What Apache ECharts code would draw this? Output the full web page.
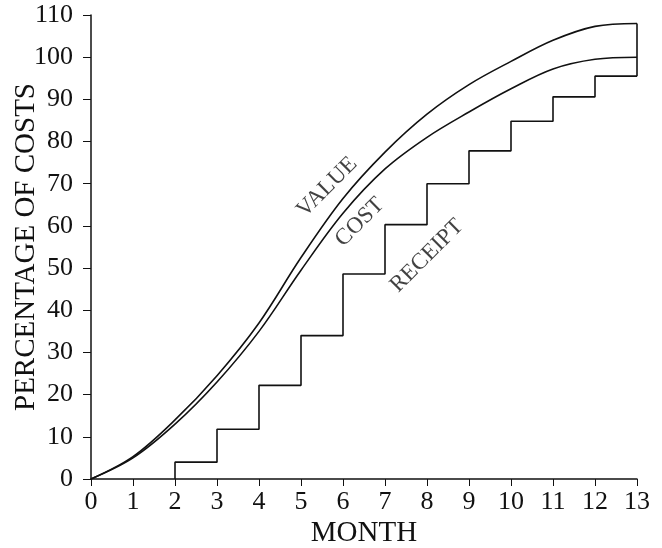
<!DOCTYPE html>
<html>
<head>
<meta charset="utf-8">
<script src="https://cdn.jsdelivr.net/npm/echarts@6/dist/echarts.min.js"></script>
<style>
  html, body { margin: 0; padding: 0; background: #fff; }
  #chart { width: 662px; height: 548px; }
</style>
</head>
<body>
<div id="chart"></div>
<script>
// Cumulative value, cost and receipts over the contract period (% of total cost)
const months = [0, 1, 2, 3, 4, 5, 6, 7, 8, 9, 10, 11, 12, 13];
const valueCurve = [0, 5.3, 14, 24.5, 37, 52.5, 66.5, 77.5, 86.5, 93.5, 99, 104, 107.3, 108];
const costCurve = [0, 5, 13, 23, 35, 49.5, 63, 73.5, 81, 87, 92.5, 97.2, 99.5, 100];

// Receipts arrive monthly from month 2; each value holds until the next month
const receiptMonths = [2, 3, 4, 5, 6, 7, 8, 9, 10, 11, 12, 13];
const receiptValues = [4, 11.8, 22.2, 34, 48.6, 60.3, 70, 77.8, 84.8, 90.6, 95.5, 95.5];

const xTicks = ['0', '1', '2', '3', '4', '5', '6', '7', '8', '9', '10', '11', '12', '13'];

// In-plot curve labels: [month, percent, text]
const curveLabels = [
  [5.62, 69.2, 'VALUE'],
  [6.4, 60.9, 'COST'],
  [8.0, 52.9, 'RECEIPT']
];

const serif = '"Times New Roman", "Liberation Serif", Times, serif';
const ink = '#111';

const pair = (xs, ys) => xs.map((x, i) => [x, ys[i]]);

// Receipt staircase: rise from zero at the first receipt month
const receiptData = [[receiptMonths[0], 0]].concat(pair(receiptMonths, receiptValues));
// Closing vertical at the last month, from final receipt up to final value
const lastMonth = months[months.length - 1];
const closingData = [
  [lastMonth, receiptValues[receiptValues.length - 1]],
  [lastMonth, valueCurve[valueCurve.length - 1]]
];

const chart = echarts.init(document.getElementById('chart'), null, { renderer: 'canvas' });

const lineStyle = { color: ink, width: 1.6 };

chart.setOption({
  animation: false,
  backgroundColor: '#fff',
  grid: { left: 91, right: 25, top: 15, bottom: 69, containLabel: false, outerBoundsMode: 'none' },
  xAxis: {
    type: 'value',
    min: 0, max: 13, interval: 1,
    name: 'MONTH',
    nameLocation: 'middle',
    nameGap: 40,
    nameMoveOverlap: false,
    nameTextStyle: { fontFamily: serif, fontSize: 29, color: ink },
    axisLine: { lineStyle: { color: ink, width: 1.5 } },
    axisTick: { show: true, inside: false, length: 7, lineStyle: { color: ink, width: 1 } },
    axisLabel: {
      margin: 10, fontFamily: serif, fontSize: 26, color: ink,
      formatter: v => xTicks[v] !== undefined ? xTicks[v] : ''
    },
    splitLine: { show: false }
  },
  yAxis: {
    type: 'value',
    min: 0, max: 110, interval: 10,
    name: 'PERCENTAGE OF COSTS',
    nameLocation: 'middle',
    nameRotate: 90,
    nameGap: 50,
    nameMoveOverlap: false,
    nameTextStyle: { fontFamily: serif, fontSize: 29, color: ink },
    axisLine: { show: true, lineStyle: { color: ink, width: 1.5 } },
    axisTick: { show: true, inside: false, length: 8, lineStyle: { color: ink, width: 1 } },
    axisLabel: { margin: 18, fontFamily: serif, fontSize: 26, color: ink },
    splitLine: { show: false }
  },
  series: [
    {
      name: 'VALUE', type: 'line', data: pair(months, valueCurve),
      smooth: 0.35, showSymbol: false, lineStyle: lineStyle, z: 3
    },
    {
      name: 'COST', type: 'line', data: pair(months, costCurve),
      smooth: 0.35, showSymbol: false, lineStyle: lineStyle, z: 3
    },
    {
      name: 'RECEIPT', type: 'line', data: receiptData, step: 'end',
      showSymbol: false, lineStyle: lineStyle, z: 3
    },
    {
      name: 'closing', type: 'line', data: closingData,
      showSymbol: false, lineStyle: lineStyle, z: 3
    },
    {
      name: 'labels', type: 'scatter', symbolSize: 0,
      data: curveLabels.map(d => ({ value: [d[0], d[1]], labelText: d[2] })),
      label: {
        show: true, position: 'inside', rotate: 45,
        fontFamily: serif, fontSize: 23, color: ink,
        formatter: p => p.data.labelText
      },
      z: 4
    }
  ]
});
</script>
</body>
</html>
